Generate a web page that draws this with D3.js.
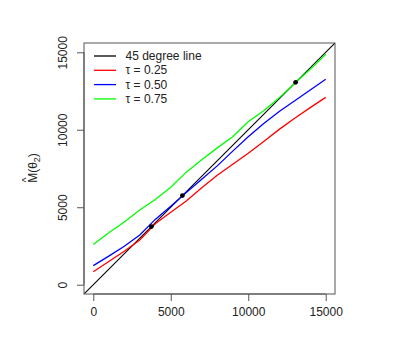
<!DOCTYPE html>
<html><head><meta charset="utf-8">
<script src="https://cdn.jsdelivr.net/npm/d3@7"></script>
<style>body{margin:0;background:#fff}svg{display:block}text{font-family:"Liberation Sans",Arial,sans-serif;fill:#222}</style>
</head><body>
<script>
const xs = [0,1000,2000,3000,4000,5000,6000,7000,8000,9000,10000,11000,12000,13000,14000,15000];
const tau25 = [841,1500,2164,2890,3936,4673,5408,6259,7061,7775,8490,9245,10026,10740,11428,12093];
const tau50 = [1229,1847,2486,3214,4214,5071,5946,6800,7670,8620,9550,10406,11180,11868,12561,13255];
const tau75 = [2600,3350,4045,4825,5496,6291,7265,8064,8831,9550,10520,11233,12059,13000,13903,14870];
const crossX = [3750,5750,13060];
const crossY = [3750,5750,13060];
const ticks = [0,5000,10000,15000];
const legendLabels = ["45 degree line","τ = 0.25","τ = 0.50","τ = 0.75"];
const legendColors = ["#000000","#ff0000","#0000ff","#00ff00"];

const W=419,H=337;
const svg=d3.select("body").append("svg").attr("width",W).attr("height",H);
const x=d3.scaleLinear().domain([-600,15600]).range([84,335]);
const y=d3.scaleLinear().domain([-600,15600]).range([294,43]);

svg.append("defs").append("clipPath").attr("id","c").append("rect")
  .attr("x",84).attr("y",43).attr("width",251).attr("height",251);

const plot=svg.append("g").attr("clip-path","url(#c)");
plot.append("line").attr("x1",x(-600)).attr("y1",y(-600)).attr("x2",x(15600)).attr("y2",y(15600))
  .attr("stroke","#000").attr("stroke-width",1.1);
const line=d3.line().x((d,i)=>x(xs[i])).y(d=>y(d));
[[tau25,"#ff0000"],[tau50,"#0000ff"],[tau75,"#00ff00"]].forEach(([s,c])=>{
  plot.append("path").attr("d",line(s)).attr("fill","none").attr("stroke",c).attr("stroke-width",1.3);
});
plot.selectAll("circle").data(crossX).enter().append("circle")
  .attr("cx",d=>x(d)).attr("cy",(d,i)=>y(crossY[i])).attr("r",2.4).attr("fill","#000");

svg.append("rect").attr("x",84).attr("y",43).attr("width",251).attr("height",251)
  .attr("fill","none").attr("stroke","#555").attr("stroke-width",1);

const xa=d3.axisBottom(x).tickValues(ticks).tickSize(7).tickPadding(6).tickFormat(d3.format("d"));
const gx=svg.append("g").attr("transform","translate(0,294)").call(xa);
gx.select(".domain").attr("d",`M${x(0)},0H${x(15000)}`).attr("stroke","#555");
gx.selectAll(".tick line").attr("stroke","#555");
gx.selectAll("text").attr("font-size",12).attr("fill","#222").attr("font-family","Liberation Sans, Arial, sans-serif");

const ya=d3.axisLeft(y).tickValues(ticks).tickSize(7).tickFormat(d3.format("d"));
const gy=svg.append("g").attr("transform","translate(84,0)").call(ya);
gy.select(".domain").attr("d",`M0,${y(0)}V${y(15000)}`).attr("stroke","#555");
gy.selectAll(".tick line").attr("stroke","#555");
gy.selectAll("text").attr("font-size",12).attr("fill","#222").attr("font-family","Liberation Sans, Arial, sans-serif")
  .attr("x",null).attr("dy",null).attr("text-anchor","middle")
  .attr("transform","translate(-17,0) rotate(-90)").attr("y",0).attr("dy","0");

// y label
const yl=svg.append("g").attr("transform","translate(37,168) rotate(-90)");
const t=yl.append("text").attr("text-anchor","middle").attr("font-size",12).attr("y",0);
t.append("tspan").text("M(θ");
t.append("tspan").text("2").attr("font-size",9).attr("dy",3);
t.append("tspan").text(")").attr("dy",-3);
yl.append("text").attr("x",-12).attr("y",-7).attr("font-size",10).attr("text-anchor","middle").text("^");

// legend
const lg=svg.append("g");
legendLabels.forEach((l,i)=>{
  const yy=56+i*14.3;
  lg.append("line").attr("x1",94).attr("x2",116).attr("y1",yy).attr("y2",yy)
    .attr("stroke",legendColors[i]).attr("stroke-width",1.3);
  lg.append("text").attr("x",125.5).attr("y",yy+4).attr("font-size",12).text(l);
});
</script>
</body></html>
